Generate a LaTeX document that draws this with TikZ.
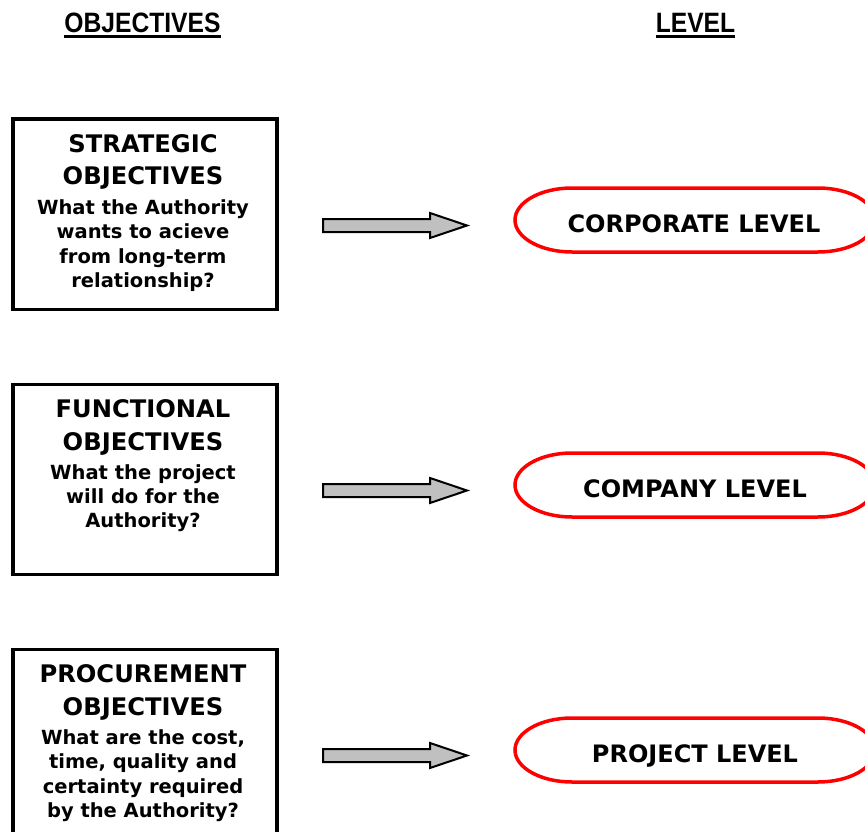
\documentclass[tikz,border=0pt]{standalone}
\usepackage{fontspec}
\newfontfamily\dv{DejaVu Sans}
\newfontfamily\libn{Liberation Sans}[FakeStretch=0.88]
\definecolor{arrowgray}{RGB}{192,192,192}
\begin{document}
\begin{tikzpicture}[x=1pt,y=1pt,
  hdr/.style={font=\libn\bfseries\fontsize{28}{32}\selectfont, inner sep=0, anchor=base},
  ttl/.style={font=\dv\bfseries\fontsize{24.2}{28}\selectfont, inner sep=0, anchor=base},
  sub/.style={font=\dv\bfseries\fontsize{19.5}{24}\selectfont, inner sep=0, anchor=base},
  objbox/.style={draw, line width=3.5, inner sep=0, anchor=north west, minimum width=264, minimum height=190},
  lvl/.style={font=\dv\bfseries\fontsize{24}{28}\selectfont, inner sep=0, anchor=base},
  lvlshape/.style={draw=red, line width=3.5},
  barrow/.style={draw, fill=arrowgray, line width=2, line join=miter}]

\useasboundingbox (0,0) rectangle (865,-832);
\clip (0,0) rectangle (865,-832);

% headers
\node[hdr] (h1) at (142.5,-33) {OBJECTIVES};
\node[hdr] (h2) at (695.5,-33) {LEVEL};
\draw[line width=3] ([yshift=-4]h1.base west) -- ([yshift=-4]h1.base east);
\draw[line width=3] ([yshift=-4]h2.base west) -- ([yshift=-4]h2.base east);

% boxes
\node[objbox] (b1) at (11,-117.5) {};
\node[objbox] (b2) at (11,-382.5) {};
\node[objbox, minimum height=220] (b3) at (11,-647.5) {};

% box 1 text
\node[ttl] (t11) at (143,-152.5) {STRATEGIC};
\node[ttl] (t12) at (143,-185) {OBJECTIVES};
\node[sub] (s11) at (143,-214) {What the Authority};
\node[sub] (s12) at (143,-238) {wants to acieve};
\node[sub] (s13) at (143,-263) {from long-term};
\node[sub] (s14) at (143,-287) {relationship?};

% box 2 text
\node[ttl] (t21) at (143,-417.5) {FUNCTIONAL};
\node[ttl] (t22) at (143,-450) {OBJECTIVES};
\node[sub] (s21) at (143,-479) {What the project};
\node[sub] (s22) at (143,-503) {will do for the};
\node[sub] (s23) at (143,-527.5) {Authority?};

% box 3 text
\node[ttl] (t31) at (143,-682.5) {PROCUREMENT};
\node[ttl] (t32) at (143,-715) {OBJECTIVES};
\node[sub] (s31) at (143,-744) {What are the cost,};
\node[sub] (s32) at (143,-768) {time, quality and};
\node[sub] (s33) at (143,-793) {certainty required};
\node[sub] (s34) at (143,-817) {by the Authority?};

% block arrows
\foreach \c in {225.5,490.5,755.5}{
  \begin{scope}[yshift=-\c]
    \draw[barrow] (323,6.5) -- (430,6.5) -- (430,12.5) -- (467,0) -- (430,-12.5) -- (430,-6.5) -- (323,-6.5) -- cycle;
  \end{scope}
}

% level shapes
\foreach \c in {220,485,750}{
  \begin{scope}[yshift=-\c]
    \draw[lvlshape] (572,32) -- (818,32) arc[start angle=90,end angle=-90,x radius=57,y radius=32]
      -- (572,-32) arc[start angle=270,end angle=90,x radius=57,y radius=32] -- cycle;
  \end{scope}
}
\node[lvl] (l1) at (694,-232) {CORPORATE LEVEL};
\node[lvl] (l2) at (695,-497) {COMPANY LEVEL};
\node[lvl] (l3) at (695,-762) {PROJECT LEVEL};
\end{tikzpicture}
\end{document}
